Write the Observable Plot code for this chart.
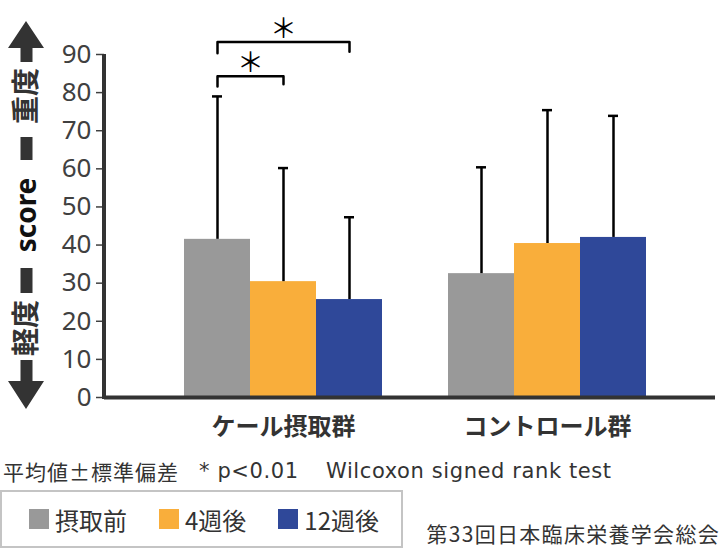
<!DOCTYPE html>
<html>
<head>
<meta charset="utf-8">
<script src="https://cdn.jsdelivr.net/npm/d3@7"></script>
<script src="https://cdn.jsdelivr.net/npm/@observablehq/plot@0.6"></script>
<style>
  body { margin: 0; background: #fff; }
  #wrap { position: relative; width: 720px; height: 550px; overflow: hidden; background: #fff;
          font-family: "Noto Sans CJK JP", "Noto Sans", sans-serif; color: #333; }
  #chart { position: absolute; left: 0; top: 0; }
  .note { position: absolute; top: 457px; font-size: 21px; white-space: pre; color: #333; line-height: 28px; }
  .lat { font-family: "DejaVu Sans", "Noto Sans", sans-serif; font-size: 21px; letter-spacing: 0.6px; }
  #legend { position: absolute; left: 0px; top: 490px; width: 403px; height: 58px; box-sizing: border-box;
            border: 2px solid #c4c4c4; display: flex; align-items: center; padding-left: 27px; white-space: nowrap; }
  .item { display: flex; align-items: center; margin-right: 32px; font-size: 24px; color: #333; flex-shrink: 0; white-space: nowrap; }
  .sw { width: 20px; height: 20px; margin-right: 6px; flex-shrink: 0; }
  #caption { position: absolute; right: 0px; top: 519px; font-size: 21px; line-height: 28px; letter-spacing: 1.3px; color: #333; white-space: nowrap; }
</style>
</head>
<body>
<div id="wrap">
  <div id="chart"></div>
  <div class="note" style="left:3px; letter-spacing:1px">平均値±標準偏差</div>
  <div class="note lat" style="left:199px">* p&lt;0.01</div>
  <div class="note lat" style="left:326px">Wilcoxon signed rank test</div>
  <div id="legend"></div>
  <div id="caption">第33回日本臨床栄養学会総会</div>
</div>
<script>
// ---- data ----
const groups = ["ケール摂取群", "コントロール群"];
const seriesNames = ["摂取前", "4週後", "12週後"];
const seriesColors = ["#999999", "#f9ae3b", "#2f4899"];
const kaleMean = [41.5, 30.4, 25.7];
const kaleSD = [37.5, 29.8, 21.6];
const controlMean = [32.5, 40.4, 42.0];
const controlSD = [27.9, 35.0, 31.9];
const yTicks = [0, 10, 20, 30, 40, 50, 60, 70, 80, 90];
// significance brackets (group ケール摂取群)
const bracketFrom = ["摂取前", "摂取前"];
const bracketTo = ["4週後", "12週後"];
const bracketTop = [84.3, 93.3];
const bracketLegLeft = [81.6, 90.3];
const bracketLegRight = [82.2, 90.7];
const starY = [87.6, 96.7];

// ---- build tables ----
const key = (g, s) => g + "|" + s;
const means = [kaleMean, controlMean];
const sds = [kaleSD, controlSD];
const rows = [];
groups.forEach((g, gi) => seriesNames.forEach((s, si) => {
  rows.push({group: g, series: s, key: key(g, s), mean: means[gi][si], top: means[gi][si] + sds[gi][si]});
}));
const xDomain = [...seriesNames.map(s => key(groups[0], s)), "gap", ...seriesNames.map(s => key(groups[1], s))];
const xRange = [184, 646.7];
const bw = (xRange[1] - xRange[0]) / xDomain.length;

const bracketPts = [];
bracketFrom.forEach((f, i) => {
  const g = groups[0];
  bracketPts.push({id: i, key: key(g, f), y: bracketLegLeft[i]});
  bracketPts.push({id: i, key: key(g, f), y: bracketTop[i]});
  bracketPts.push({id: i, key: key(g, bracketTo[i]), y: bracketTop[i]});
  bracketPts.push({id: i, key: key(g, bracketTo[i]), y: bracketLegRight[i]});
});
const stars = bracketFrom.map((f, i) => {
  const a = seriesNames.indexOf(f), b = seriesNames.indexOf(bracketTo[i]);
  return {key: key(groups[0], f), y: starY[i], span: b - a};
});

const plot = Plot.plot({
  width: 720,
  height: 445,
  marginTop: 54,
  marginBottom: 48,
  marginLeft: 104,
  marginRight: 5,
  style: {fontFamily: "'Noto Sans', 'Noto Sans CJK JP', sans-serif", background: "transparent", overflow: "visible"},
  x: {domain: xDomain, range: xRange, padding: 0, axis: null},
  y: {domain: [0, 90], axis: null},
  color: {domain: seriesNames, range: seriesColors},
  marks: [
    Plot.barY(rows, {x: "key", y: "mean", fill: "series"}),
    Plot.ruleX(rows, {x: "key", y1: "mean", y2: "top", stroke: "#000", strokeWidth: 2.5}),
    Plot.tickY(rows, {x: "key", y: "top", stroke: "#000", strokeWidth: 2.5, insetLeft: 28, insetRight: 28}),
    Plot.ruleY([0], {stroke: "#333", strokeWidth: 4}),
    Plot.axisY(yTicks, {tickSize: 8, tickPadding: 5, fontSize: 26, color: "#404040", strokeWidth: 1.5, label: null}),
    Plot.line(bracketPts, {x: "key", y: "y", z: "id", stroke: "#000", strokeWidth: 2.5}),
    ...stars.map(s => Plot.text([s], {x: "key", y: "y", text: () => "＊", dx: s.span * bw / 2, fontSize: 27,
      fontFamily: "'Noto Sans CJK JP'", lineAnchor: "middle", fill: "#000"})),
    Plot.text(groups, {x: g => key(g, seriesNames[1]), y: () => 0, text: d => d, dy: 30, fontSize: 24,
      fontWeight: "bold", fontFamily: "'Noto Sans CJK JP'", lineAnchor: "middle", fill: "#333"})
  ]
});
document.getElementById("chart").appendChild(plot);

// y-axis line and decorative axis title with arrows
const ys = plot.scale("y");
const svg = d3.select(plot);
svg.append("line")
  .attr("x1", 104).attr("x2", 104)
  .attr("y1", ys.apply(0) + 2).attr("y2", ys.apply(90))
  .attr("stroke", "#333").attr("stroke-width", 4);
const deco = svg.append("g");
deco.append("path").attr("fill", "#333")
  .attr("d", "M26,21 L44,48 L32.5,48 L32.5,62 L20.5,62 L20.5,48 L8,48 Z");
deco.append("path").attr("fill", "#333")
  .attr("d", "M26,409 L44,381 L32.5,381 L32.5,360 L20.5,360 L20.5,381 L8,381 Z");
deco.append("rect").attr("fill", "#333").attr("x", 20.5).attr("y", 137).attr("width", 12).attr("height", 23);
deco.append("rect").attr("fill", "#333").attr("x", 20.5).attr("y", 268).attr("width", 12).attr("height", 25);
const labels = [["重度", 96, "#333"], ["score", 215, "#111"], ["軽度", 328, "#333"]];
labels.forEach(([t, cy, c]) => {
  deco.append("text")
    .attr("transform", `translate(25,${cy}) rotate(-90)`)
    .attr("text-anchor", "middle").attr("dominant-baseline", "central")
    .attr("font-family", "'Noto Sans', 'Noto Sans CJK JP', sans-serif")
    .attr("font-weight", "bold").attr("font-size", 28).attr("fill", c)
    .text(t);
});

// legend
const legend = d3.select("#legend");
seriesNames.forEach((s, i) => {
  const it = legend.append("div").attr("class", "item");
  it.append("div").attr("class", "sw").style("background", seriesColors[i]);
  it.append("span").text(s);
});
</script>
</body>
</html>
